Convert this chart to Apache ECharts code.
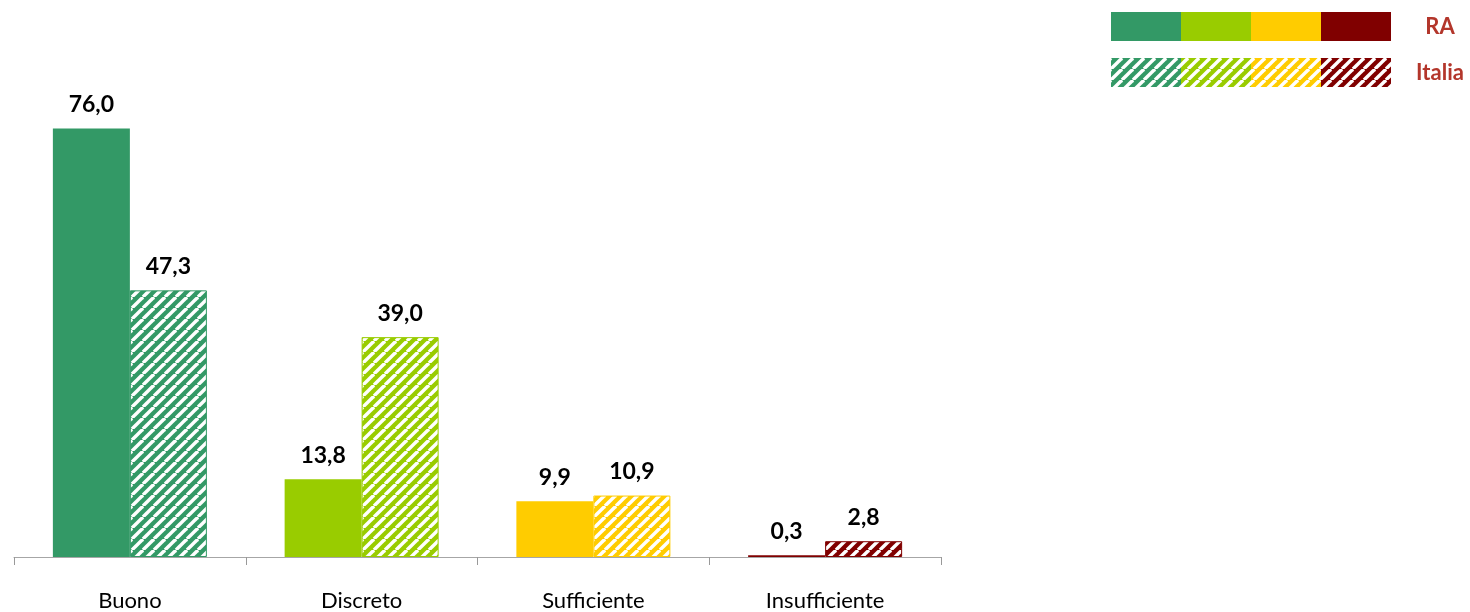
<!DOCTYPE html>
<html>
<head>
<meta charset="utf-8">
<script src="https://cdn.jsdelivr.net/npm/echarts@6/dist/echarts.min.js"></script>
<style>
  html, body { margin: 0; padding: 0; background: #fff; }
  #chart { width: 1470px; height: 612px; }
</style>
</head>
<body>
<div id="chart"></div>
<script>
const categories = ['Buono', 'Discreto', 'Sufficiente', 'Insufficiente']
const raValues = [76.0, 13.8, 9.9, 0.3]
const italiaValues = [47.3, 39.0, 10.9, 2.8]
const colors = ['#339966', '#99CC00', '#FFCC00', '#800000']

// white "/" stripes over a base colour, as a repeating tile
function stripeTile(color) {
  const size = 11
  const c = document.createElement('canvas')
  c.width = size
  c.height = size
  const ctx = c.getContext('2d')
  ctx.fillStyle = color
  ctx.fillRect(0, 0, size, size)
  ctx.strokeStyle = '#ffffff'
  ctx.lineWidth = 3.4
  for (const off of [-size, 0, size]) {
    ctx.beginPath()
    ctx.moveTo(off, size)
    ctx.lineTo(off + size, 0)
    ctx.stroke()
  }
  return c
}

function legendIcon(hatched) {
  const c = document.createElement('canvas')
  c.width = 280
  c.height = 29
  const ctx = c.getContext('2d')
  colors.forEach((col, i) => {
    ctx.fillStyle = hatched ? ctx.createPattern(stripeTile(col), 'repeat') : col
    ctx.fillRect(i * 70, 0, 70, 29)
  })
  return 'image://' + c.toDataURL()
}

const labelStyle = {
  show: true,
  position: 'top',
  distance: 12,
  fontFamily: 'Lato',
  fontWeight: 'bold',
  fontSize: 23,
  color: '#000',
  formatter: (p) => p.value.toFixed(1).replace('.', ',')
}

const chart = echarts.init(document.getElementById('chart'))
chart.setOption({
  animation: false,
  grid: { left: 14, right: 529, top: 106, bottom: 54 },
  legend: {
    orient: 'vertical',
    left: 1111,
    top: 12,
    padding: 0,
    itemWidth: 280,
    itemHeight: 29,
    itemGap: 17,
    selectedMode: false,
    data: [
      { name: 'RA', icon: legendIcon(false) },
      { name: 'Italia', icon: legendIcon(true) }
    ],
    formatter: '{t|{name}}',
    textStyle: {
      rich: {
        t: {
          width: 88,
          align: 'center',
          fontFamily: 'Lato',
          fontWeight: 'bold',
          fontSize: 22,
          color: '#B3362B'
        }
      }
    }
  },
  xAxis: {
    type: 'category',
    data: categories,
    axisLine: { lineStyle: { color: '#A6A6A6', width: 1 } },
    axisTick: { show: true, interval: 0, length: 8, lineStyle: { color: '#999999', width: 1 } },
    axisLabel: { margin: 33, fontFamily: 'Lato', fontSize: 22, color: '#000' }
  },
  yAxis: {
    type: 'value',
    min: 0,
    max: 80,
    show: false,
    splitLine: { show: false }
  },
  series: [
    {
      name: 'RA',
      type: 'bar',
      barWidth: 77,
      barGap: '0%',
      data: raValues.map((v, i) => ({ value: v, itemStyle: { color: colors[i] } })),
      label: labelStyle
    },
    {
      name: 'Italia',
      type: 'bar',
      barWidth: 77,
      barGap: '0%',
      data: italiaValues.map((v, i) => ({
        value: v,
        itemStyle: {
          color: { image: stripeTile(colors[i]), repeat: 'repeat' },
          borderColor: colors[i],
          borderWidth: 1
        }
      })),
      label: labelStyle
    }
  ]
})
</script>
</body>
</html>
